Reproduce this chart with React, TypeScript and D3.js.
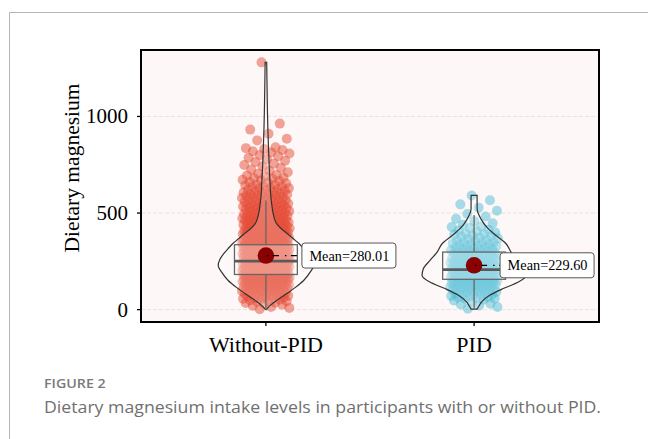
import * as d3 from 'd3';

const categories = ['Without-PID', 'PID'];

const withoutPidValues = [
  2, 9, 14, 20, 26, 31, 36, 41, 45, 49,
  52, 55, 59, 61, 64, 67, 69, 72, 74, 77, 80, 82, 85, 88, 90, 93, 96, 99,
  101, 103, 106, 108, 110, 112, 115, 117, 119, 121, 123, 125, 127, 129, 131, 133, 135, 137, 139, 141, 143, 145, 147, 149,
  150, 152, 154, 155, 157, 159, 160, 162, 164, 165, 167, 168, 170, 172, 173, 175, 177, 178, 180, 182, 183, 185, 186, 188, 190, 191, 193, 195, 196, 198,
  200, 201, 203, 204, 206, 207, 209, 210, 212, 213, 215, 216, 218, 219, 221, 222, 224, 225, 227, 228, 230, 231, 233, 234, 236, 237, 239, 240, 242, 243, 245, 246, 248, 249,
  251, 253, 254, 256, 258, 259, 261, 263, 264, 266, 268, 269, 271, 273, 274, 276, 278, 279, 281, 283, 284, 286, 288, 289, 291, 293, 294, 296, 298, 299,
  301, 303, 305, 307, 309, 311, 313, 315, 317, 319, 321, 323, 325, 327, 329, 331, 333, 335, 337, 339, 341, 343, 345, 346, 348, 350,
  352, 354, 357, 359, 361, 364, 366, 368, 371, 373, 375, 378, 380, 382, 385, 387, 389, 391, 393, 395, 397, 399,
  401, 404, 406, 409, 411, 414, 416, 419, 421, 424, 426, 429, 431, 434, 436, 439, 441, 444, 446, 449,
  451, 454, 457, 459, 462, 465, 467, 470, 473, 475, 478, 481, 484, 486, 489, 492, 495, 498,
  501, 504, 507, 510, 513, 516, 519, 522, 525, 528, 531, 534, 537, 540, 543, 546, 549,
  552, 555, 559, 562, 566, 569, 573, 576, 580, 583, 587, 590, 593, 596, 599,
  603, 607, 611, 615, 619, 623, 627, 631, 635, 639, 644, 648,
  654, 660, 666, 672, 678, 684, 690, 697,
  704, 711, 719, 726, 734, 741, 749, 756, 764, 771, 779, 786, 794, 801, 808, 814, 820, 826, 831, 836, 840,
  876, 885, 911, 932, 963, 1280,
];
const withoutPidValuesMore = [
  34, 43, 57, 63, 70, 76, 84, 91, 97, 102, 107, 111, 116, 120, 124, 128, 132, 136, 140, 144, 148,
  151, 153, 156, 158, 161, 163, 166, 169, 171, 174, 176, 179, 181, 184, 187, 189, 192, 194, 197, 199,
  202, 205, 208, 211, 214, 217, 220, 223, 226, 229, 232, 235, 238, 241, 244, 247, 250,
  252, 255, 257, 260, 262, 265, 267, 270, 272, 275, 277, 280, 282, 285, 287, 290, 292, 295, 297, 300,
  302, 304, 306, 308, 310, 312, 314, 316, 318, 320, 322, 324, 326, 328, 330, 332, 334, 336, 338, 340, 342, 344, 347, 349,
  353, 356, 360, 363, 367, 370, 374, 377, 381, 384, 388, 392, 396, 400, 403, 407, 410, 413, 418, 422, 425, 428,
  433, 437, 440, 445, 448, 452, 456, 461, 464, 468, 472, 477, 480, 485, 488, 493, 497, 503, 508, 512, 517, 521,
  527, 532, 536, 541, 545, 551, 557, 564, 571, 578, 585, 592, 598, 605, 613, 621, 629, 637, 646, 657, 669, 681, 694,
];

const pidValues = [
  5, 14, 22, 31, 40, 47,
  52, 56, 60, 64, 68, 71, 75, 79, 82, 86, 89, 92, 95, 98,
  101, 104, 106, 109, 111, 114, 116, 119, 121, 124, 126, 129, 131, 133, 136, 138, 140, 142, 144, 146, 148, 149,
  151, 153, 155, 157, 159, 161, 163, 165, 167, 169, 171, 173, 175, 177, 179, 181, 183, 185, 187, 189, 191, 193, 195, 196, 198, 199,
  201, 203, 205, 208, 210, 212, 215, 217, 219, 222, 224, 226, 229, 231, 233, 236, 238, 240, 243, 245, 247, 249,
  252, 255, 257, 260, 263, 266, 268, 271, 274, 277, 280, 283, 286, 289, 291, 294, 296, 299,
  303, 307, 311, 315, 319, 323, 327, 331, 335, 339, 343, 346, 349,
  355, 361, 366, 372, 378, 384, 389, 394, 399,
  406, 414, 422, 431, 439, 447,
  458, 470, 482, 495,
  512, 528, 545, 566, 591,
];
const pidValuesMore = [
  27, 58, 66, 73, 84, 94, 103, 108, 113, 118, 123, 128, 134, 139, 145, 152, 156, 160, 164, 168,
  172, 176, 180, 184, 188, 192, 197, 202, 207, 211, 214, 218, 221, 225, 228, 232, 237, 241, 246,
  251, 256, 262, 267, 273, 279, 285, 292, 298, 305, 313, 321, 330, 338, 347, 358, 369, 381, 392, 410, 428,
];

const means = [280.01, 229.6];

// [lower whisker, Q1, median, Q3, upper whisker]
const boxStats = [
  [0, 182, 251, 336, 565],
  [5, 157, 207, 298, 490],
];

// violin outlines: [value, relative half-width]
const violinWithout = [
  [0, 0.005], [22, 0.083], [48, 0.21], [83, 0.4], [114, 0.56], [151, 0.725], [194, 0.85],
  [229, 0.917], [260, 0.885], [290, 0.81], [315, 0.73], [341, 0.64], [368, 0.52], [394, 0.41],
  [420, 0.29], [445, 0.205], [470, 0.165], [496, 0.14], [548, 0.11], [600, 0.09], [668, 0.077],
  [750, 0.062], [850, 0.048], [950, 0.036], [1050, 0.028], [1150, 0.022], [1280, 0.015],
];
const violinPid = [
  [3, 0.058], [20, 0.096], [39, 0.14], [74, 0.3], [109, 0.56], [143, 0.85], [177, 1.0],
  [212, 0.975], [255, 0.846], [298, 0.71], [341, 0.615], [384, 0.42], [419, 0.27],
  [470, 0.13], [522, 0.058], [591, 0.058],
];

const yTicks = [0, 500, 1000];

const pointValues = [
  [...withoutPidValues, ...withoutPidValuesMore].sort((a, b) => a - b),
  [...pidValues, ...pidValuesMore].sort((a, b) => a - b),
];
const violins = [violinWithout, violinPid];
const pointColors = ['#E64B35', '#4DBBD5'];

const W = 648;
const H = 439;
const panel = { left: 141, right: 599, top: 50, bottom: 322 };
const labelGap = [36, 26];
const labelW = 94;
const labelH = 25;
const serif = "'Liberation Serif', Tinos, 'Times New Roman', Times, serif";
const sans = "'Open Sans', 'Noto Sans', sans-serif";

export default function App() {
  const x = d3.scalePoint<string>().domain(categories).range([panel.left, panel.right]).padding(0.6);
  const y = d3.scaleLinear().domain([-64, 1344]).range([panel.bottom, panel.top]);
  const step = x.step();
  const hw = d3.scaleLinear().domain([0, 1]).range([0, step * 0.25]);
  const jitter = step * 0.115;
  const boxHalf = step * 0.151;

  const violinPath = (cx: number, prof: number[][]) =>
    d3
      .area<number[]>()
      .curve(d3.curveMonotoneY)
      .y((d) => y(d[0]))
      .x0((d) => cx - hw(d[1]))
      .x1((d) => cx + hw(d[1]))(prof) ?? '';

  return (
    <svg width={W} height={H} style={{ position: 'absolute', left: 0, top: 0, background: '#fff' }}>
      <path d={`M9.5,${H} V12.5 H${W}`} fill="none" stroke="#b5b5b5" strokeWidth={1} />

      <rect x={panel.left} y={panel.top} width={panel.right - panel.left} height={panel.bottom - panel.top} fill="#FDF8F7" />
      {yTicks.map((t) => (
        <line key={t} x1={panel.left} x2={panel.right} y1={y(t)} y2={y(t)} stroke="#e2dcdc" strokeWidth={0.8} strokeDasharray="4 2" />
      ))}

      {pointValues.map((vals, g) => {
        const cx = x(categories[g])!;
        return (
          <g key={g}>
            {vals.map((v, i) => {
              const off = (((i * 0.6180339887 + 0.37) % 1) * 2 - 1) * jitter;
              return <circle key={i} cx={cx + off} cy={y(v)} r={5} fill={pointColors[g]} fillOpacity={0.5} />;
            })}
          </g>
        );
      })}

      {violins.map((prof, g) => {
        const cx = x(categories[g])!;
        return <path key={g} d={violinPath(cx, prof)} fill="#fff" fillOpacity={0.2} stroke="#333" strokeWidth={1.2} />;
      })}

      {boxStats.map((s, g) => {
        const cx = x(categories[g])!;
        return (
          <g key={g}>
            <line x1={cx} x2={cx} y1={y(s[3])} y2={y(s[4])} stroke="#666" strokeWidth={1.3} />
            <line x1={cx} x2={cx} y1={y(s[1])} y2={y(s[0])} stroke="#666" strokeWidth={1.3} />
            <rect x={cx - boxHalf} y={y(s[3])} width={boxHalf * 2} height={y(s[1]) - y(s[3])} fill="#fff" fillOpacity={0.25} stroke="#666" strokeWidth={1.3} />
            <line x1={cx - boxHalf} x2={cx + boxHalf} y1={y(s[2])} y2={y(s[2])} stroke="#5a5a5a" strokeWidth={2.6} />
          </g>
        );
      })}

      {means.map((m, g) => {
        const cx = x(categories[g])!;
        const my = y(m);
        const lx = cx + labelGap[g];
        return (
          <g key={g}>
            <circle cx={cx} cy={my} r={8.3} fill="#8B0000" />
            <line x1={cx + 1} x2={lx} y1={my} y2={my} stroke="#000" strokeWidth={1.2} strokeDasharray="1.5 4.5 6 6" />
            <rect x={lx} y={my - labelH / 2} width={labelW} height={labelH} rx={3} fill="#fff" stroke="#555" strokeWidth={1} />
            <text x={lx + 7.5} y={my + 5} style={{ fontFamily: serif }} fontSize={14.3} fill="#000">
              {`Mean=${m.toFixed(2)}`}
            </text>
          </g>
        );
      })}

      <rect x={panel.left} y={panel.top} width={panel.right - panel.left} height={panel.bottom - panel.top} fill="none" stroke="#000" strokeWidth={2} />

      {yTicks.map((t) => (
        <g key={t}>
          <line x1={panel.left - 4} x2={panel.left} y1={y(t)} y2={y(t)} stroke="#000" strokeWidth={1.3} />
          <text x={128} y={y(t) + 7} textAnchor="end" style={{ fontFamily: serif }} fontSize={21} fill="#000">
            {t}
          </text>
        </g>
      ))}
      {categories.map((c) => (
        <g key={c}>
          <line x1={x(c)} x2={x(c)} y1={panel.bottom} y2={panel.bottom + 4} stroke="#000" strokeWidth={1.3} />
          <text x={x(c)} y={352} textAnchor="middle" style={{ fontFamily: serif }} fontSize={22} fill="#000">
            {c}
          </text>
        </g>
      ))}
      <text transform="translate(79,168) rotate(-90)" textAnchor="middle" style={{ fontFamily: serif }} fontSize={21.5} fill="#000">
        Dietary magnesium
      </text>

      <text x={44} y={388} style={{ fontFamily: sans }} fontSize={13} fontWeight={600} fill="#7a7a7a" textLength={61.7} lengthAdjust="spacingAndGlyphs">
        FIGURE 2
      </text>
      <text x={44} y={412.7} style={{ fontFamily: sans }} fontSize={16} fill="#707070" textLength={557} lengthAdjust="spacingAndGlyphs">
        Dietary magnesium intake levels in participants with or without PID.
      </text>
    </svg>
  );
}
